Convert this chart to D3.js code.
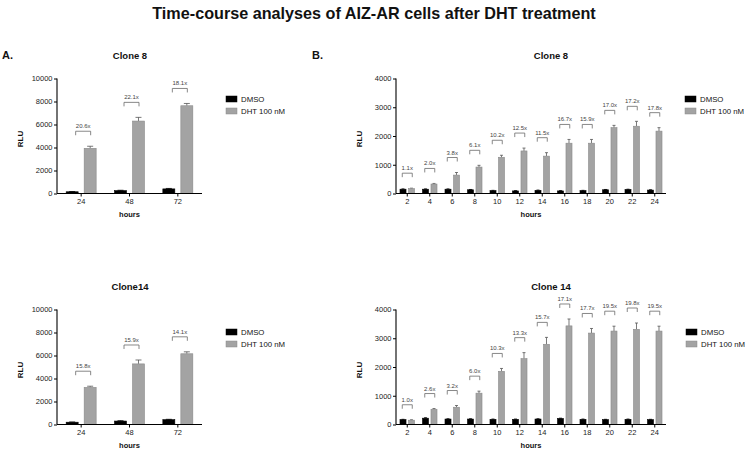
<!DOCTYPE html>
<html><head><meta charset="utf-8">
<script src="https://cdn.jsdelivr.net/npm/d3@7"></script>
<style>
html,body{margin:0;padding:0;background:#fff;}
svg{display:block;font-family:"Liberation Sans",Arial,Helvetica,sans-serif;}
</style></head>
<body>
<svg id="chart" width="748" height="451"></svg>
<script>
// ---------- DATA ----------
const seriesNames = ["DMSO", "DHT 100 nM"];

// Panel A – 24/48/72 h
const hoursA = ["24", "48", "72"];
const ticksA = [0, 2000, 4000, 6000, 8000, 10000];

const c8A_dmso     = [150, 250, 400];
const c8A_dmsoErr  = [20, 30, 40];
const c8A_dht      = [3930, 6300, 7630];
const c8A_dhtErr   = [180, 320, 200];
const c8A_fold     = ["20.6x", "22.1x", "18.1x"];

const c14A_dmso    = [200, 300, 420];
const c14A_dmsoErr = [20, 30, 30];
const c14A_dht     = [3230, 5270, 6150];
const c14A_dhtErr  = [100, 340, 170];
const c14A_fold    = ["15.8x", "15.9x", "14.1x"];

// Panel B – 2..24 h
const hoursB = ["2", "4", "6", "8", "10", "12", "14", "16", "18", "20", "22", "24"];
const ticksB = [0, 1000, 2000, 3000, 4000];

const c8B_dmso     = [150, 150, 150, 130, 100, 90, 110, 90, 100, 130, 140, 120];
const c8B_dmsoErr  = [10, 10, 10, 10, 10, 10, 10, 10, 10, 10, 10, 10];
const c8B_dht      = [170, 330, 640, 920, 1260, 1480, 1300, 1750, 1750, 2290, 2340, 2170];
const c8B_dhtErr   = [15, 20, 90, 60, 70, 100, 120, 130, 130, 80, 170, 120];
const c8B_fold     = ["1.1x", "2.0x", "3.8x", "6.1x", "10.2x", "12.5x", "11.5x", "16.7x", "15.9x", "17.0x", "17.2x", "17.8x"];

const c14B_dmso    = [170, 220, 190, 190, 180, 180, 190, 210, 180, 170, 180, 170];
const c14B_dmsoErr = [10, 15, 10, 10, 10, 10, 10, 10, 10, 10, 10, 10];
const c14B_dht     = [150, 530, 600, 1090, 1850, 2290, 2790, 3430, 3180, 3250, 3310, 3250];
const c14B_dhtErr  = [15, 25, 60, 70, 100, 210, 240, 240, 160, 170, 220, 170];
const c14B_fold    = ["1.0x", "2.6x", "3.2x", "6.0x", "10.3x", "13.3x", "15.7x", "17.1x", "17.7x", "19.5x", "19.8x", "19.5x"];

// ---------- DRAW ----------
const svg = d3.select("#chart");
const FONT = '"Liberation Sans",Arial,Helvetica,sans-serif';
const colDMSO = "#000000", colDHT = "#a3a3a3", colDHTStroke = "#8a8a8a";

svg.append("text").attr("x", 374).attr("y", 19).attr("text-anchor", "middle")
  .attr("font-size", 16.2).attr("font-weight", "bold").attr("fill", "#111")
  .text("Time-course analyses of AIZ-AR cells after DHT treatment");

svg.append("text").attr("x", 2).attr("y", 59).attr("font-size", 11).attr("font-weight", "bold").attr("fill", "#111").text("A.");
svg.append("text").attr("x", 312).attr("y", 59).attr("font-size", 11).attr("font-weight", "bold").attr("fill", "#111").text("B.");

function panel(cfg) {
  const g = svg.append("g");
  const x = d3.scaleBand().domain(cfg.cats).range([cfg.x0, cfg.x1]).paddingInner(0).paddingOuter(0);
  const y = d3.scaleLinear().domain([0, cfg.yMax]).range([cfg.yB, cfg.yT]);
  const bw = x.bandwidth();
  const sub = d3.scaleBand().domain(seriesNames).range([0, bw]).paddingInner(cfg.pIn).paddingOuter(cfg.pOut);
  const barW = sub.bandwidth();

  // title
  g.append("text").attr("x", cfg.titleX).attr("y", cfg.titleY).attr("text-anchor", "middle")
    .attr("font-size", 9.5).attr("font-weight", "bold").attr("fill", "#111").text(cfg.title);

  // bars
  const series = [
    {name: seriesNames[0], vals: cfg.dmso, errs: cfg.dmsoErr, fill: colDMSO, stroke: colDMSO, ecol: "#000"},
    {name: seriesNames[1], vals: cfg.dht, errs: cfg.dhtErr, fill: colDHT, stroke: colDHTStroke, ecol: "#555"}
  ];
  series.forEach(s => {
    const capW = barW * 0.5;
    cfg.cats.forEach((c, i) => {
      const bx = x(c) + sub(s.name);
      const cx = bx + barW / 2;
      g.append("line").attr("x1", cx).attr("x2", cx)
        .attr("y1", y(s.vals[i])).attr("y2", y(s.vals[i] + s.errs[i]))
        .attr("stroke", s.ecol).attr("stroke-width", 0.8);
      g.append("line").attr("x1", cx - capW / 2).attr("x2", cx + capW / 2)
        .attr("y1", y(s.vals[i] + s.errs[i])).attr("y2", y(s.vals[i] + s.errs[i]))
        .attr("stroke", s.ecol).attr("stroke-width", 0.8);
      g.append("rect").attr("x", bx).attr("width", barW)
        .attr("y", y(s.vals[i])).attr("height", y(0) - y(s.vals[i]))
        .attr("fill", s.fill).attr("stroke", s.stroke).attr("stroke-width", 0.6);
    });
  });

  // fold brackets
  cfg.cats.forEach((c, i) => {
    const gc = x(c) + bw / 2 + cfg.brOff;
    const top = y(cfg.dht[i] + cfg.dhtErr[i]) - 15;
    const hw = cfg.brW / 2;
    g.append("path")
      .attr("d", `M${gc - hw},${top + 4}V${top}H${gc + hw}V${top + 4}`)
      .attr("fill", "none").attr("stroke", "#6a6a6a").attr("stroke-width", 0.8);
    g.append("text").attr("x", gc).attr("y", top - 3).attr("text-anchor", "middle")
      .attr("font-size", 6).attr("fill", "#444").text(cfg.fold[i]);
  });

  // y axis
  const yAx = g.append("g").attr("transform", `translate(${cfg.x0},0)`)
    .call(d3.axisLeft(y).tickValues(cfg.yTicks).tickSize(3).tickPadding(1.5).tickFormat(d3.format("d")));
  yAx.select(".domain").attr("stroke", "#000").attr("stroke-width", 1.1).attr("d", `M0,${cfg.yT}V${cfg.yB}`);
  yAx.selectAll(".tick line").attr("stroke", "#000").attr("stroke-width", 1);
  yAx.selectAll("text").attr("font-size", 7.5).attr("font-family", FONT).attr("fill", "#222");

  // x axis
  const xAx = g.append("g").attr("transform", `translate(0,${cfg.yB})`)
    .call(d3.axisBottom(x).tickSize(3).tickPadding(2));
  xAx.select(".domain").attr("stroke", "#000").attr("stroke-width", 1.1).attr("d", `M${cfg.x0},0H${cfg.x1}`);
  xAx.selectAll(".tick line").attr("stroke", "#000").attr("stroke-width", 1);
  xAx.selectAll("text").attr("font-size", 7.5).attr("font-family", FONT).attr("fill", "#222");

  // axis titles
  g.append("text").attr("transform", `translate(${cfg.rluX},${(cfg.yT + cfg.yB) / 2 + 3}) rotate(-90)`)
    .attr("text-anchor", "middle").attr("font-size", 8).attr("font-weight", "bold").attr("fill", "#111").text("RLU");
  g.append("text").attr("x", (cfg.x0 + cfg.x1) / 2).attr("y", cfg.yB + 23).attr("text-anchor", "middle")
    .attr("font-size", 7.5).attr("font-weight", "bold").attr("fill", "#111").text("hours");

  // legend
  series.forEach((s, k) => {
    const ly = cfg.legY + k * 12;
    g.append("rect").attr("x", cfg.legX).attr("y", ly - 3).attr("width", 11).attr("height", 6)
      .attr("fill", s.fill).attr("stroke", s.stroke).attr("stroke-width", 0.5);
    g.append("text").attr("x", cfg.legX + 15).attr("y", ly + 3).attr("font-size", 7.8)
      .attr("fill", "#111").text(s.name);
  });
}

panel({title: "Clone 8", titleX: 130, titleY: 59, cats: hoursA, yMax: 10000, yTicks: ticksA,
  x0: 57, x1: 202, yT: 78.5, yB: 193.5, pIn: 1/3, pOut: 0.51, brOff: 2, brW: 15,
  dmso: c8A_dmso, dmsoErr: c8A_dmsoErr, dht: c8A_dht, dhtErr: c8A_dhtErr, fold: c8A_fold,
  rluX: 23, legX: 226, legY: 99});

panel({title: "Clone14", titleX: 130, titleY: 290, cats: hoursA, yMax: 10000, yTicks: ticksA,
  x0: 57, x1: 202, yT: 309.5, yB: 424.5, pIn: 1/3, pOut: 0.51, brOff: 2, brW: 15,
  dmso: c14A_dmso, dmsoErr: c14A_dmsoErr, dht: c14A_dht, dhtErr: c14A_dhtErr, fold: c14A_fold,
  rluX: 23, legX: 226, legY: 332});

panel({title: "Clone 8", titleX: 551, titleY: 59, cats: hoursB, yMax: 4000, yTicks: ticksB,
  x0: 396, x1: 666, yT: 78.5, yB: 193.5, pIn: 0.29, pOut: 0.47, brOff: 0, brW: 10,
  dmso: c8B_dmso, dmsoErr: c8B_dmsoErr, dht: c8B_dht, dhtErr: c8B_dhtErr, fold: c8B_fold,
  rluX: 362, legX: 685, legY: 99});

panel({title: "Clone 14", titleX: 551, titleY: 290, cats: hoursB, yMax: 4000, yTicks: ticksB,
  x0: 396, x1: 666, yT: 309.5, yB: 424.5, pIn: 0.29, pOut: 0.47, brOff: 0, brW: 10,
  dmso: c14B_dmso, dmsoErr: c14B_dmsoErr, dht: c14B_dht, dhtErr: c14B_dhtErr, fold: c14B_fold,
  rluX: 362, legX: 686, legY: 332});
</script>
</body></html>
